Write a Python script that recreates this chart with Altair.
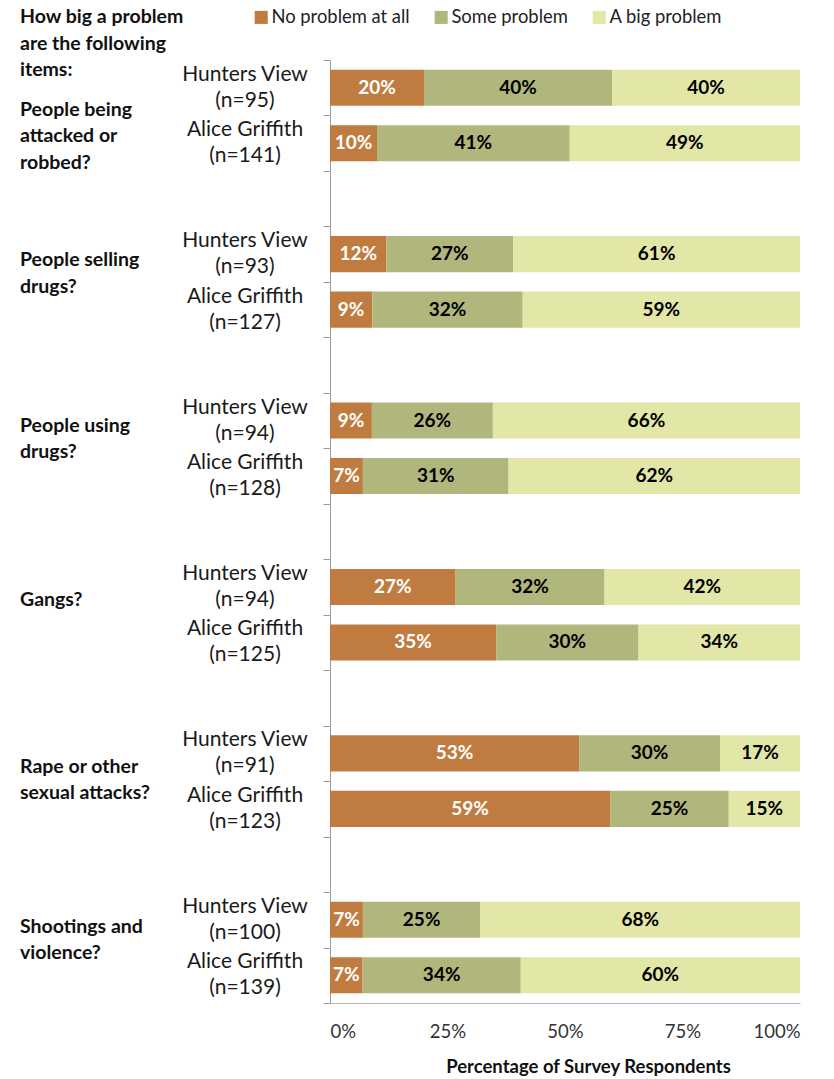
import altair as alt
import pandas as pd

questions = ["People being\nattacked or\nrobbed?", "People selling\ndrugs?", "People using\ndrugs?",
             "Gangs?", "Rape or other\nsexual attacks?", "Shootings and\nviolence?"]
sites = ["Hunters View", "Alice Griffith"]
hv_n = [95, 93, 94, 94, 91, 100]
ag_n = [141, 127, 128, 125, 123, 139]
responses = ["No problem at all", "Some problem", "A big problem"]
colors = ["#C07C40", "#B1B77C", "#E2E6A7"]
text_colors = ["white", "black", "black"]

hv_none = [20, 12, 9, 27, 53, 7]
hv_some = [40, 27, 26, 32, 30, 25]
hv_big = [40, 61, 66, 42, 17, 68]
ag_none = [10, 9, 7, 35, 59, 7]
ag_some = [41, 32, 31, 30, 25, 34]
ag_big = [49, 59, 62, 34, 15, 60]

header = "How big a problem\nare the following\nitems:"
x_ticks = [0, 0.25, 0.5, 0.75, 1]

# layout: vertical nudge (px) of each question label's first line from its "Hunters View" bar centre
q_label_dy = [22, 6, 5, 13, 13.5, 7]

# category keys (with blank spacer rows between groups)
keys = []
for i in range(len(questions)):
    keys += [f"q{i}_hv", f"q{i}_ag"]
    if i < len(questions) - 1:
        keys.append(f"q{i}_gap")

rows = []
lab_rows = []
q_rows = []
for i in range(len(questions)):
    for site, n, vals in [("hv", hv_n[i], [hv_none[i], hv_some[i], hv_big[i]]),
                          ("ag", ag_n[i], [ag_none[i], ag_some[i], ag_big[i]])]:
        key = f"q{i}_{site}"
        for j, r in enumerate(responses):
            rows.append({"key": key, "response": r, "order": j, "value": vals[j],
                         "label": f"{vals[j]}%", "tc": text_colors[j]})
        name = sites[0] if site == "hv" else sites[1]
        lab_rows.append({"key": key, "label": f"{name}\n(n={n})"})
    q_rows.append({"key": f"q{i}_hv", "q": questions[i], "idx": i})

df = pd.DataFrame(rows)
labs = pd.DataFrame(lab_rows)
qdf = pd.DataFrame(q_rows)
hdf = pd.DataFrame([{"t": header}])

FONT = "Lato"

yenc = alt.Y("key:N", title=None,
             scale=alt.Scale(domain=keys, paddingInner=0, paddingOuter=0),
             axis=alt.Axis(labels=False, tickBand="extent", tickSize=7, tickColor="#9A9A9A",
                           domainColor="#9A9A9A", grid=False, tickCount=len(keys)))

base = alt.Chart(df).transform_stack(
    stack="value", as_=["x0", "x1"], groupby=["key"],
    sort=[alt.SortField("order", order="ascending")], offset="normalize"
).transform_calculate(mid="(datum.x0 + datum.x1) / 2")

bars = base.mark_bar(height={"band": 0.65}).encode(
    y=yenc,
    x=alt.X("x0:Q", scale=alt.Scale(domain=[0, 1], nice=False),
            axis=alt.Axis(format="%", values=x_ticks, ticks=False, tickSize=0, grid=False,
                          labelPadding=19, labelFontSize=18.5, labelColor="#333",
                          domainColor="#B5B5B5", title="Percentage of Survey Respondents",
                          titleFontSize=18.5, titleFontWeight="bold", titleColor="#111",
                          titlePadding=17, titleX=258, titleAlign="center")),
    x2="x1:Q",
    color=alt.Color("response:N", scale=alt.Scale(domain=responses, range=colors),
                    legend=alt.Legend(orient="none", legendX=-78, legendY=-52, direction="horizontal",
                                      title=None, symbolType="square", symbolSize=170,
                                      symbolStrokeWidth=0, labelFontSize=18.4, labelColor="#222",
                                      columnPadding=22, labelOffset=1)),
)

bar_text = base.mark_text(fontSize=19, fontWeight="bold", baseline="middle", align="center").encode(
    y=yenc,
    x=alt.X("mid:Q"),
    text="label:N",
    color=alt.Color("tc:N", scale=None),
)

site_labels = alt.Chart(labs).mark_text(
    align="center", baseline="middle", fontSize=21, lineBreak="\n", lineHeight=26, dy=-13,
    color="#1a1a1a"
).encode(y=yenc, x=alt.value(-85), text="label:N")

q_layers = []
for i, dy in enumerate(q_label_dy):
    q_layers.append(
        alt.Chart(qdf).transform_filter(f"datum.idx == {i}").mark_text(
            align="left", baseline="middle", fontSize=19.5, fontWeight="bold", lineBreak="\n",
            lineHeight=26.5, dy=dy, color="#111"
        ).encode(y=yenc, x=alt.value(-310), text="q:N")
    )

head = alt.Chart(hdf).mark_text(
    align="left", baseline="middle", fontSize=19.5, fontWeight="bold", lineBreak="\n",
    lineHeight=26.5, color="#111"
).encode(y=alt.value(-43), x=alt.value(-310), text="t:N")

chart = alt.layer(bars, bar_text, site_labels, *q_layers, head).properties(
    width=470, height=943,
    padding={"left": 330, "top": 60, "right": 34, "bottom": 76},
    autosize=alt.AutoSizeParams(type="none"),
).configure(font=FONT).configure_view(stroke=None)

chart.save("out.html", embed_options={"renderer": "svg", "actions": False})
